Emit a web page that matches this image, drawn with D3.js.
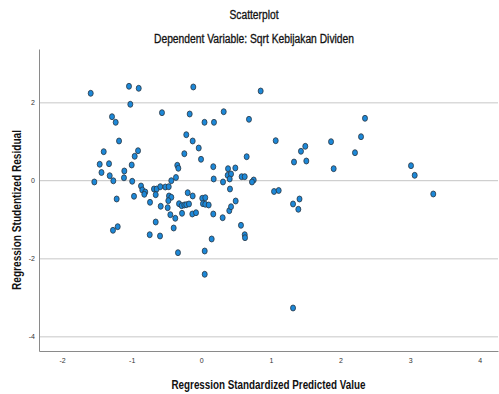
<!DOCTYPE html>
<html>
<head>
<meta charset="utf-8">
<script src="https://cdn.jsdelivr.net/npm/d3@7"></script>
<style>
  body { margin: 0; background: #fff; }
  text { font-family: "Liberation Sans", Arial, sans-serif; }
</style>
</head>
<body>
<svg id="scatter" width="499" height="394"></svg>
<script>
// Regression standardized predicted value (x) and studentized residual (y)
const predicted = [
  -1.589, -1.039, -0.899, -0.115, 0.853, -1.020, -0.565, -0.167, 0.322, 0.046,
  0.182, 0.685, 2.352, -1.283, -1.230, -1.182, -0.216, -0.124, -0.037, 1.069,
  2.295, 1.864, 1.494, 1.432, 2.208, -1.402, -0.909, -0.957, -0.244, -0.004,
  0.652, 1.332, 1.509, 1.902, 3.013, 3.066, -1.460, -1.326, -1.000, -1.434,
  -1.106, -0.345, -0.330, 0.172, 0.384, 0.489, -1.316, -1.111, -1.264, -0.993,
  -1.537, -0.364, -0.431, 0.379, 0.427, 0.408, 0.580, 0.624, 0.178, 0.312,
  0.753, 0.728, -0.866, -0.848, -0.805, -0.819, -0.680, -0.641, -0.655, -0.589,
  -0.517, -0.468, -0.967, -1.216, -0.464, -0.431, -0.474, -0.195, -0.124, 0.014,
  0.057, -0.737, -0.583, -0.483, -0.320, -0.282, -0.244, -0.216, -0.177, 0.024,
  0.057, 0.106, -0.445, -0.374, -0.277, -0.129, -0.076, -0.655, -0.397, -1.269,
  -1.201, -0.741, -0.593, -0.335, 0.049, 0.049, 0.412, 1.045, 1.112, 1.411,
  0.172, 0.307, 0.402, 0.427, 0.494, 0.570, 0.624, 0.628, 1.318, 1.394,
  0.149, 3.333, 1.318
];
const residual = [
  2.241, 2.421, 2.369, 2.403, 2.300, 1.959, 1.744, 1.710, 1.769, 1.497,
  1.497, 1.574, 1.600, 1.641, 1.497, 1.018, 1.179, 1.018, 0.838, 1.026,
  1.128, 1.000, 0.882, 0.754, 0.718, 0.744, 0.769, 0.626, 0.692, 0.549,
  0.615, 0.479, 0.505, 0.308, 0.385, 0.138, 0.421, 0.436, 0.403, 0.210,
  0.249, 0.395, 0.318, 0.359, 0.308, 0.326, 0.128, 0.074, -0.003, -0.015,
  -0.033, 0.082, 0.000, 0.138, 0.172, 0.044, 0.103, 0.103, 0.044, -0.033,
  0.018, -0.033, -0.136, -0.238, -0.290, -0.349, -0.213, -0.213, -0.359, -0.154,
  -0.162, -0.154, -0.400, -0.469, -0.392, -0.426, -0.513, -0.308, -0.392, -0.451,
  -0.436, -0.554, -0.656, -0.692, -0.590, -0.641, -0.623, -0.615, -0.597, -0.590,
  -0.605, -0.623, -0.872, -0.964, -0.836, -0.854, -0.821, -1.059, -1.213, -1.272,
  -1.179, -1.385, -1.418, -1.846, -1.803, -2.400, -0.213, -0.277, -0.251, -0.469,
  -0.854, -0.949, -0.769, -0.667, -0.521, -1.144, -1.385, -1.462, -0.597, -0.733,
  -1.495, -0.341, -3.264
];
const xTicks = [-2, -1, 0, 1, 2, 3, 4];
const yTicks = [-4, -2, 0, 2];
const title = "Scatterplot";
const subtitle = "Dependent Variable: Sqrt Kebijakan Dividen";
const xTitle = "Regression Standardized Predicted Value";
const yTitle = "Regression Studentized Residual";

const svg = d3.select("#scatter");
const margin = { top: 49, right: 1, bottom: 43, left: 39 };
const width = 499 - margin.left - margin.right;
const height = 394 - margin.top - margin.bottom;

const x = d3.scaleLinear().domain([-2.332, 4.263]).range([0, width]);
const y = d3.scaleLinear().domain([-4.367, 3.377]).range([height, 0]);

const g = svg.append("g").attr("transform", "translate(" + margin.left + "," + margin.top + ")");

// horizontal grid lines
g.selectAll(".grid")
  .data(yTicks)
  .enter()
  .append("line")
  .attr("x1", 0)
  .attr("x2", width)
  .attr("y1", d => y(d))
  .attr("y2", d => y(d))
  .attr("stroke", d => d === 0 ? "#c4c4c4" : "#dadada")
  .attr("stroke-width", d => d === 0 ? 1 : 1.6);

// axes (plain hyphen for negatives, like the original)
const xAxis = g.append("g")
  .attr("transform", "translate(0," + height + ")")
  .call(d3.axisBottom(x).tickValues(xTicks).tickSize(0).tickPadding(7).tickFormat(d => String(d)));
const yAxis = g.append("g")
  .call(d3.axisLeft(y).tickValues(yTicks).tickSize(0).tickPadding(4).tickFormat(d => String(d)));

[xAxis, yAxis].forEach(a => {
  a.select(".domain").attr("stroke", "#8a8a8a").attr("stroke-width", 1);
  a.selectAll("text").attr("font-size", 7).attr("fill", "#333")
    .style("font-family", "'Liberation Sans', Arial, sans-serif");
});

// points
g.selectAll(".pt")
  .data(predicted.map((v, i) => [v, residual[i]]))
  .enter()
  .append("ellipse")
  .attr("class", "pt")
  .attr("cx", d => x(d[0]))
  .attr("cy", d => y(d[1]))
  .attr("rx", 2.5)
  .attr("ry", 3)
  .attr("fill", "#1c88d8")
  .attr("stroke", "#2a3540")
  .attr("stroke-width", 0.8);

// titles, squeezed to the narrow look of the original
function label(txt, len, bold) {
  return svg.append("text")
    .attr("text-anchor", "middle")
    .attr("font-size", 12)
    .attr("font-weight", bold ? "bold" : "normal")
    .attr("fill", "#111")
    .attr("stroke", bold ? "none" : "#111")
    .attr("stroke-width", 0.3)
    .attr("textLength", len)
    .attr("lengthAdjust", "spacingAndGlyphs")
    .text(txt);
}

label(title, 49, false).attr("x", 254).attr("y", 18.5);
label(subtitle, 200, false).attr("x", 254).attr("y", 42.5);
label(xTitle, 194, true).attr("x", margin.left + width / 2).attr("y", 389);
label(yTitle, 160, true).attr("transform", "translate(21,210) rotate(-90)");
</script>
</body>
</html>
